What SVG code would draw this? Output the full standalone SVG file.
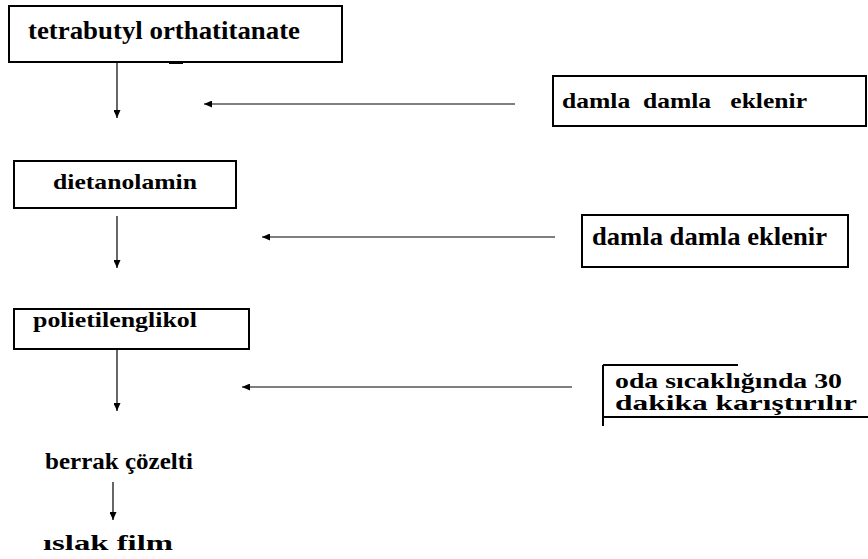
<svg xmlns="http://www.w3.org/2000/svg" width="868" height="559" viewBox="0 0 868 559">
<defs>
<marker id="ah" markerWidth="8" markerHeight="7" refX="8" refY="3.5" orient="auto" markerUnits="userSpaceOnUse">
<path d="M0,0 L8,3.5 L0,7 z" fill="#000"/>
</marker>
<style>
.box{fill:#fff;stroke:#000;stroke-width:2}
.t{font-weight:bold;fill:#000;white-space:pre}
.ca{stroke:#000;stroke-width:1.2;fill:none;marker-end:url(#ah)}
</style>
</defs>
<rect width="868" height="559" fill="#fff"/>
<g font-family="'Liberation Serif', 'Times New Roman', serif">
<g id="n1">
<rect class="box" x="9" y="6" width="333" height="56"/>
<text class="t" x="28" y="39" font-size="25" textLength="272" lengthAdjust="spacingAndGlyphs">tetrabutyl orthatitanate</text>
<rect x="169" y="62" width="14" height="2" fill="#000"/>
</g>
<g id="n2">
<rect class="box" x="553" y="76" width="313" height="50"/>
<text class="t" x="562" y="108" font-size="21" textLength="245" lengthAdjust="spacingAndGlyphs">damla  damla   eklenir</text>
</g>
<g id="n3">
<rect class="box" x="14" y="161" width="222" height="47"/>
<text class="t" x="53" y="189" font-size="22" textLength="144" lengthAdjust="spacingAndGlyphs">dietanolamin</text>
</g>
<g id="n4">
<rect class="box" x="582" y="215" width="266" height="52"/>
<text class="t" x="592" y="245" font-size="25" textLength="235" lengthAdjust="spacingAndGlyphs">damla damla eklenir</text>
</g>
<g id="n5">
<rect class="box" x="14" y="309" width="235" height="40"/>
<text class="t" x="33" y="327" font-size="22" textLength="164" lengthAdjust="spacingAndGlyphs">polietilenglikol</text>
</g>
<g id="n6">
<path d="M603,365 H738 M603,365 V426 M603,417 H868" stroke="#000" stroke-width="2" fill="none"/>
<text class="t" x="615" y="388" font-size="21" textLength="227" lengthAdjust="spacingAndGlyphs">oda sıcaklığında 30</text>
<text class="t" x="615" y="410" font-size="21" textLength="242" lengthAdjust="spacingAndGlyphs">dakika karıştırılır</text>
</g>
<g id="n7">
<text class="t" x="45" y="469" font-size="23" textLength="148" lengthAdjust="spacingAndGlyphs">berrak çözelti</text>
</g>
<g id="n8">
<text class="t" x="43" y="550" font-size="22" textLength="130" lengthAdjust="spacingAndGlyphs">ıslak film</text>
</g>
</g>
<g id="connectors">
<line class="ca" x1="117" y1="62" x2="117" y2="118"/>
<line class="ca" x1="515" y1="104" x2="204" y2="104"/>
<line class="ca" x1="117" y1="216" x2="117" y2="268"/>
<line class="ca" x1="555" y1="237" x2="262" y2="237"/>
<line class="ca" x1="117" y1="349" x2="117" y2="411"/>
<line class="ca" x1="572" y1="387" x2="242" y2="387"/>
<line class="ca" x1="113" y1="482" x2="113" y2="520"/>
</g>
</svg>
